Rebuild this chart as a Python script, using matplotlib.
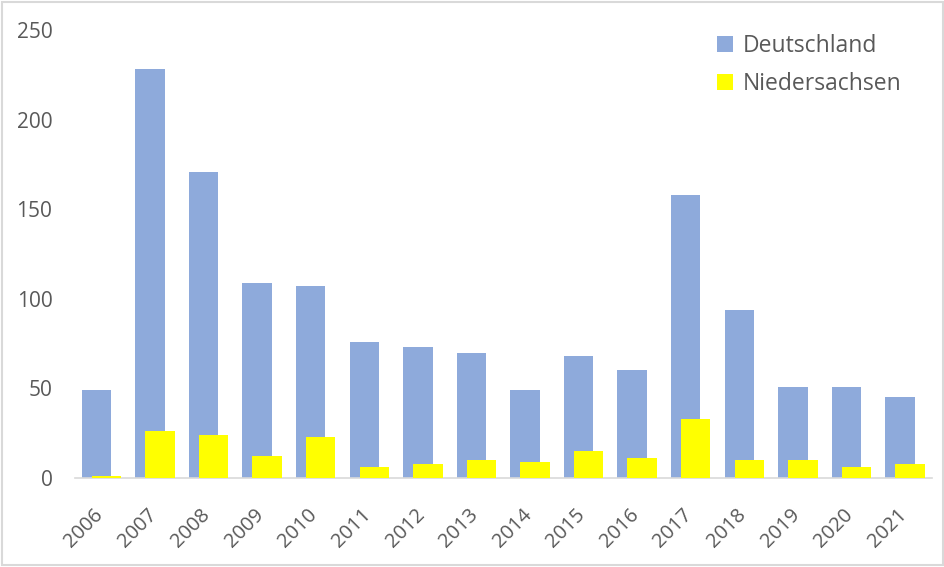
import numpy as np
import matplotlib.pyplot as plt
import matplotlib.transforms as mtransforms
from matplotlib.patches import Rectangle

years = ["2006", "2007", "2008", "2009", "2010", "2011", "2012", "2013",
         "2014", "2015", "2016", "2017", "2018", "2019", "2020", "2021"]
deutschland = [49, 228, 171, 109, 107, 76, 73, 70, 49, 68, 60, 158, 94, 51, 51, 45]
niedersachsen = [1, 26, 24, 12, 23, 6, 8, 10, 9, 15, 11, 33, 10, 10, 6, 8]

plt.rcParams["font.family"] = ["Open Sans", "DejaVu Sans"]
text_col = "#595959"

fig = plt.figure(figsize=(9.45, 5.67), dpi=100)
ax = fig.add_axes([0.079, 0.157, 0.907, 0.79])

x = np.arange(len(years))
w = 0.55
ax.bar(x - 0.093, deutschland, width=w, color="#8eaadb", label="Deutschland", zorder=2)
ax.bar(x + 0.093, niedersachsen, width=w, color="#ffff00", label="Niedersachsen", zorder=3)

ax.set_xlim(-0.5, len(years) - 0.5)
ax.set_ylim(0, 250)
ax.set_yticks([0, 50, 100, 150, 200, 250])
ax.set_xticks(x)
ax.set_xticklabels(years, rotation=45, ha="right", rotation_mode="anchor")

for s in ["top", "right", "left"]:
    ax.spines[s].set_visible(False)
ax.spines["bottom"].set_color("#d9d9d9")
ax.spines["bottom"].set_linewidth(1.2)
ax.tick_params(axis="y", length=0, pad=16, labelsize=15, labelcolor=text_col)
ax.tick_params(axis="x", length=0, pad=19, labelsize=14.5, labelcolor=text_col)

# nudge the rotated year labels a little to the left
shift = mtransforms.ScaledTranslation(-6 / 72, 0, fig.dpi_scale_trans)
for lbl in ax.get_xticklabels():
    lbl.set_transform(lbl.get_transform() + shift)

leg = ax.legend(loc="upper left", bbox_to_anchor=(0.747, 0.96), bbox_transform=fig.transFigure,
                frameon=False, fontsize=16.5, handlelength=0.7, handleheight=0.7,
                handletextpad=0.4, labelspacing=0.6, borderpad=0)
for t in leg.get_texts():
    t.set_color(text_col)

# light gray border around the picture
fig.patches.append(Rectangle((0.002, 0.003), 0.996, 0.994, transform=fig.transFigure,
                             fill=False, edgecolor="#d9d9d9", linewidth=1.5))

fig.savefig("out.png", dpi=100)
